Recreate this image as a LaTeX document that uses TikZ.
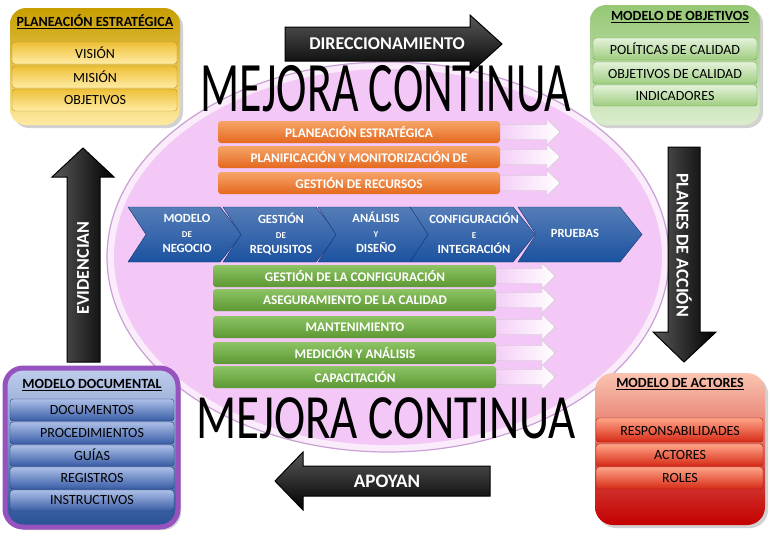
\documentclass[tikz,border=0pt]{standalone}
\usepackage{fontspec}
\setmainfont{Carlito}
\usetikzlibrary{positioning}

\definecolor{lila}{RGB}{243,200,246}
\definecolor{rim}{RGB}{250,236,250}
\definecolor{rimline}{RGB}{200,160,212}
\definecolor{chevblue}{RGB}{28,82,160}
\definecolor{chevline}{RGB}{18,50,110}
\newcommand{\chevron}[2]{\draw[chev] (#1,207) -- (#2-22,207) -- (#2,234.5) -- (#2-22,262) -- (#1,262) -- (#1+18,234.5) -- cycle;}
\newcommand{\wharrow}[3]{\draw[wharr] (#2,#1-7.5) -- (#3-13,#1-7.5) -- (#3-13,#1-12.5) -- (#3,#1) -- (#3-13,#1+12.5) -- (#3-13,#1+7.5) -- (#2,#1+7.5) -- cycle;}

\begin{document}
\begin{tikzpicture}[x=1pt, y=-1pt,
    itemtext/.style={font=\fontsize{14}{14}\selectfont},
    boxtitle/.style={font=\bfseries\fontsize{14}{14}\selectfont},
    bartext/.style={white, font=\bfseries\fontsize{13.2}{13.2}\selectfont},
    chevtext/.style={white, align=center, font=\bfseries\fontsize{12.5}{15}\selectfont},
    arrtext/.style={white, font=\bfseries\fontsize{18}{18}\selectfont},
    bigarrow/.style={draw=black, line width=1pt},
    chev/.style={draw=chevline, top color=chevblue!75!white, bottom color=chevblue},
    wharr/.style={draw=black!22, left color=lila, right color=white},
    bigword/.style={anchor=base, font=\fontsize{71}{71}\selectfont}]
    \useasboundingbox (0,0) rectangle (770,536);

    % Central ellipse
    \draw[fill=rim, draw=rimline, line width=1.2pt] (388,257) ellipse (281 and 195);
    \fill[lila] (388,257) ellipse (274 and 188);

    % Top and bottom words
    \node[bigword] (mejoraA) at (386,111) {\scalebox{0.645}[1]{MEJORA CONTINUA}};

    % Orange bars with white arrows
    \wharrow{132}{490}{560}
    \wharrow{157}{490}{560}
    \wharrow{183}{490}{560}
    \shade[top color={rgb,255:red,246;green,165;blue,105}, bottom color={rgb,255:red,228;green,104;blue,30}, rounded corners=3pt] (218,121) rectangle (500,143);
    \shade[top color={rgb,255:red,246;green,165;blue,105}, bottom color={rgb,255:red,228;green,104;blue,30}, rounded corners=3pt] (218,146) rectangle (500,168);
    \shade[top color={rgb,255:red,246;green,165;blue,105}, bottom color={rgb,255:red,228;green,104;blue,30}, rounded corners=3pt] (218,172) rectangle (500,194);
    \node[bartext] (planest) at (359,132) {PLANEACIÓN ESTRATÉGICA};
    \node[bartext] (planmon) at (359,157) {PLANIFICACIÓN Y MONITORIZACIÓN DE};
    \node[bartext] (recursos) at (359,183) {GESTIÓN DE RECURSOS};

    % Process chevrons
    \chevron{128}{242}
    \chevron{223}{338}
    \chevron{318}{432}
    \chevron{410}{535}
    \chevron{518}{642}
    \node[chevtext] (negocio) at (187,233) {MODELO\\{\fontsize{9}{15}\selectfont DE}\\NEGOCIO};
    \node[chevtext] (requisitos) at (281,234) {GESTIÓN\\{\fontsize{9}{15}\selectfont DE}\\REQUISITOS};
    \node[chevtext] (diseno) at (376,232) {ANÁLISIS\\{\fontsize{9}{15}\selectfont Y}\\DISEÑO};
    \node[chevtext] (integracion) at (474,233) {CONFIGURACIÓN\\{\fontsize{9}{15}\selectfont E}\\INTEGRACIÓN};
    \node[chevtext] (pruebas) at (575,233) {PRUEBAS};

    % Green bars with white arrows
    \wharrow{276}{487}{555}
    \wharrow{300}{487}{555}
    \wharrow{327}{487}{555}
    \wharrow{353}{487}{555}
    \wharrow{377}{487}{555}
    \shade[top color={rgb,255:red,142;green,196;blue,100}, bottom color={rgb,255:red,92;green,152;blue,52}, rounded corners=3pt] (213,265) rectangle (496,287);
    \shade[top color={rgb,255:red,142;green,196;blue,100}, bottom color={rgb,255:red,92;green,152;blue,52}, rounded corners=3pt] (213,289) rectangle (496,311);
    \shade[top color={rgb,255:red,142;green,196;blue,100}, bottom color={rgb,255:red,92;green,152;blue,52}, rounded corners=3pt] (213,316) rectangle (496,338);
    \shade[top color={rgb,255:red,142;green,196;blue,100}, bottom color={rgb,255:red,92;green,152;blue,52}, rounded corners=3pt] (213,342) rectangle (496,364);
    \shade[top color={rgb,255:red,142;green,196;blue,100}, bottom color={rgb,255:red,92;green,152;blue,52}, rounded corners=3pt] (213,366) rectangle (496,388);
    \node[bartext] (configuracion) at (355,276) {GESTIÓN DE LA CONFIGURACIÓN};
    \node[bartext] (aseguramiento) at (355,300) {ASEGURAMIENTO DE LA CALIDAD};
    \node[bartext] (mantenimiento) at (355,327) {MANTENIMIENTO};
    \node[bartext] (medicion) at (355,353) {MEDICIÓN Y ANÁLISIS};
    \node[bartext] (capacitacion) at (355,377) {CAPACITACIÓN};

    \node[bigword] (mejoraB) at (386,438) {\scalebox{0.745}[1]{\fontsize{63}{63}\selectfont MEJORA CONTINUA}};

    % Black arrows round the ellipse
    \shade[bigarrow, top color=black!65, bottom color=black] (285,27) -- (470,27) -- (470,15) -- (502,44) -- (470,73) -- (470,61) -- (285,61) -- cycle;
    \node[arrtext] (direcc) at (387,44) {DIRECCIONAMIENTO};
    \shade[bigarrow, left color=black!65, right color=black] (668,147) -- (700,147) -- (700,332) -- (716,332) -- (684,362) -- (653,332) -- (668,332) -- cycle;
    \node[arrtext, rotate=-90] (planes) at (684,245) {PLANES DE ACCIÓN};
    \shade[bigarrow, top color=black!65, bottom color=black] (490,466) -- (303,466) -- (303,452) -- (275,481) -- (303,510) -- (303,496) -- (490,496) -- cycle;
    \node[arrtext, font=\bfseries\fontsize{19}{19}\selectfont] (apoyan) at (387,481) {APOYAN};
    \shade[bigarrow, left color=black!65, right color=black] (67,362) -- (67,177) -- (52,177) -- (83,148) -- (114,177) -- (100,177) -- (100,362) -- cycle;
    \node[arrtext, rotate=90] (evid) at (83,268) {EVIDENCIAN};

    % Planeacion estrategica (yellow)
    \fill[black!18, rounded corners=16pt] (13,11) rectangle (183,128);
    \shade[top color={rgb,255:red,200;green,158;blue,0}, bottom color={rgb,255:red,255;green,233;blue,160}, rounded corners=16pt] (10,8) rectangle (180,125);
    \node[boxtitle] (planeacion) at (95,22) {\underline{PLANEACIÓN ESTRATÉGICA}};
    \shade[draw={rgb,255:red,185;green,145;blue,30}, top color={rgb,255:red,238;green,192;blue,55}, bottom color={rgb,255:red,255;green,236;blue,165}, rounded corners=3pt] (12,42) rectangle (177,64);
    \shade[draw={rgb,255:red,185;green,145;blue,30}, top color={rgb,255:red,238;green,192;blue,55}, bottom color={rgb,255:red,255;green,236;blue,165}, rounded corners=3pt] (12,66) rectangle (177,88);
    \shade[draw={rgb,255:red,185;green,145;blue,30}, top color={rgb,255:red,238;green,192;blue,55}, bottom color={rgb,255:red,255;green,236;blue,165}, rounded corners=3pt] (12,89) rectangle (177,111);
    \node[itemtext] (vision) at (95,53) {VISIÓN};
    \node[itemtext] (mision) at (95,77) {MISIÓN};
    \node[itemtext] (objetivos) at (95,100) {OBJETIVOS};

    % Modelo de objetivos (green)
    \fill[black!18, rounded corners=16pt] (593,8) rectangle (763,128);
    \shade[top color={rgb,255:red,150;green,200;blue,118}, bottom color={rgb,255:red,218;green,236;blue,205}, rounded corners=16pt] (590,5) rectangle (760,125);
    \node[boxtitle] (modobj) at (680,17) {\underline{MODELO DE OBJETIVOS}};
    \shade[draw={rgb,255:red,115;green,165;blue,85}, top color={rgb,255:red,228;green,242;blue,218}, bottom color={rgb,255:red,158;green,205;blue,128}, rounded corners=3pt] (593,38) rectangle (757,60);
    \shade[draw={rgb,255:red,115;green,165;blue,85}, top color={rgb,255:red,228;green,242;blue,218}, bottom color={rgb,255:red,158;green,205;blue,128}, rounded corners=3pt] (593,62) rectangle (757,84);
    \shade[draw={rgb,255:red,115;green,165;blue,85}, top color={rgb,255:red,228;green,242;blue,218}, bottom color={rgb,255:red,158;green,205;blue,128}, rounded corners=3pt] (593,85) rectangle (757,106);
    \node[itemtext] (politicas) at (675,49) {POLÍTICAS DE CALIDAD};
    \node[itemtext] (objcal) at (675,74) {OBJETIVOS DE CALIDAD};
    \node[itemtext] (indicadores) at (675,96) {INDICADORES};

    % Modelo documental (blue, purple frame)
    \fill[black!18, rounded corners=18pt] (8,371) rectangle (181,530);
    \shade[draw={rgb,255:red,150;green,82;blue,190}, line width=5pt, top color={rgb,255:red,192;green,206;blue,236}, bottom color={rgb,255:red,40;green,80;blue,150}, rounded corners=18pt] (5,368) rectangle (178,527);
    \node[boxtitle] (moddoc) at (92,385) {\underline{MODELO DOCUMENTAL}};
    \shade[draw={rgb,255:red,40;green,62;blue,120}, top color={rgb,255:red,172;green,192;blue,232}, bottom color={rgb,255:red,56;green,92;blue,166}, rounded corners=3pt] (10,399) rectangle (174,421);
    \shade[draw={rgb,255:red,40;green,62;blue,120}, top color={rgb,255:red,172;green,192;blue,232}, bottom color={rgb,255:red,56;green,92;blue,166}, rounded corners=3pt] (10,422) rectangle (174,444);
    \shade[draw={rgb,255:red,40;green,62;blue,120}, top color={rgb,255:red,172;green,192;blue,232}, bottom color={rgb,255:red,56;green,92;blue,166}, rounded corners=3pt] (10,445) rectangle (174,466);
    \shade[draw={rgb,255:red,40;green,62;blue,120}, top color={rgb,255:red,172;green,192;blue,232}, bottom color={rgb,255:red,56;green,92;blue,166}, rounded corners=3pt] (10,467) rectangle (174,489);
    \shade[draw={rgb,255:red,40;green,62;blue,120}, top color={rgb,255:red,172;green,192;blue,232}, bottom color={rgb,255:red,56;green,92;blue,166}, rounded corners=3pt] (10,490) rectangle (174,511);
    \node[itemtext] (documentos) at (92,410) {DOCUMENTOS};
    \node[itemtext] (procedimientos) at (92,433) {PROCEDIMIENTOS};
    \node[itemtext] (guias) at (92,455) {GUÍAS};
    \node[itemtext] (registros) at (92,478) {REGISTROS};
    \node[itemtext] (instructivos) at (92,500) {INSTRUCTIVOS};

    % Modelo de actores (red)
    \fill[black!18, rounded corners=18pt] (598,376) rectangle (768,528);
    \shade[top color={rgb,255:red,250;green,196;blue,176}, bottom color={rgb,255:red,195;green,0;blue,0}, rounded corners=18pt] (595,373) rectangle (765,525);
    \node[boxtitle] (modact) at (680,384) {\underline{MODELO DE ACTORES}};
    \shade[draw={rgb,255:red,170;green,30;blue,20}, top color={rgb,255:red,255;green,165;blue,135}, bottom color={rgb,255:red,214;green,42;blue,22}, rounded corners=3pt] (596,418) rectangle (763,442);
    \shade[draw={rgb,255:red,170;green,30;blue,20}, top color={rgb,255:red,255;green,165;blue,135}, bottom color={rgb,255:red,214;green,42;blue,22}, rounded corners=3pt] (596,444) rectangle (763,466);
    \shade[draw={rgb,255:red,170;green,30;blue,20}, top color={rgb,255:red,255;green,165;blue,135}, bottom color={rgb,255:red,214;green,42;blue,22}, rounded corners=3pt] (596,467) rectangle (763,489);
    \node[itemtext] (responsab) at (680,431) {RESPONSABILIDADES};
    \node[itemtext] (actores) at (680,455) {ACTORES};
    \node[itemtext] (roles) at (680,478) {ROLES};
\end{tikzpicture}
\end{document}
